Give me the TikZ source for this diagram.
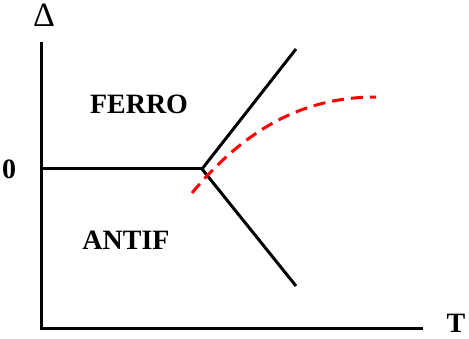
\documentclass[tikz,border=0pt]{standalone}
\usepackage{fontspec}
\setmainfont{Liberation Serif}
\usepackage{tikz}
\usetikzlibrary{calc}

\begin{document}
\begin{tikzpicture}[x=1pt, y=1pt,
  label/.style={inner sep=0pt, font=\fontsize{28}{30}\selectfont\bfseries},
  fase/.style={line width=3pt},
  linea/.style={line width=3pt, red, dash pattern=on 12pt off 7pt}]
\useasboundingbox (0,0) rectangle (469,338);
% Ejes
\coordinate (O) at (41,10);
\coordinate (ytop) at (41,296);
\coordinate (xend) at (423,10);
\draw[fase] (ytop) -- (O) -- (xend);
\node[label, font=\fontsize{34}{36}\selectfont\mdseries] (delta) at (44,323) {Δ};
\node[label] (T) at (456,15) {T};
\node[label] (cero) at (9,169) {0};
% Fronteras de fase
\coordinate (izq) at (41,169);
\coordinate (triple) at (202,169);
\coordinate (arriba) at (296,289);
\coordinate (abajo) at (296,52);
\draw[fase] (izq) -- (triple);
\draw[fase] (triple) -- (arriba);
\draw[fase] (triple) -- (abajo);
% Curva punteada
\coordinate (c0) at (192,145);
\coordinate (c1) at (376,241);
\draw[linea] (c0) .. controls (250,215) and (310,241) .. (c1);
\node[label] (ferro) at (139,234) {FERRO};
\node[label] (antif) at (126,98) {ANTIF};
\end{tikzpicture}
\end{document}
